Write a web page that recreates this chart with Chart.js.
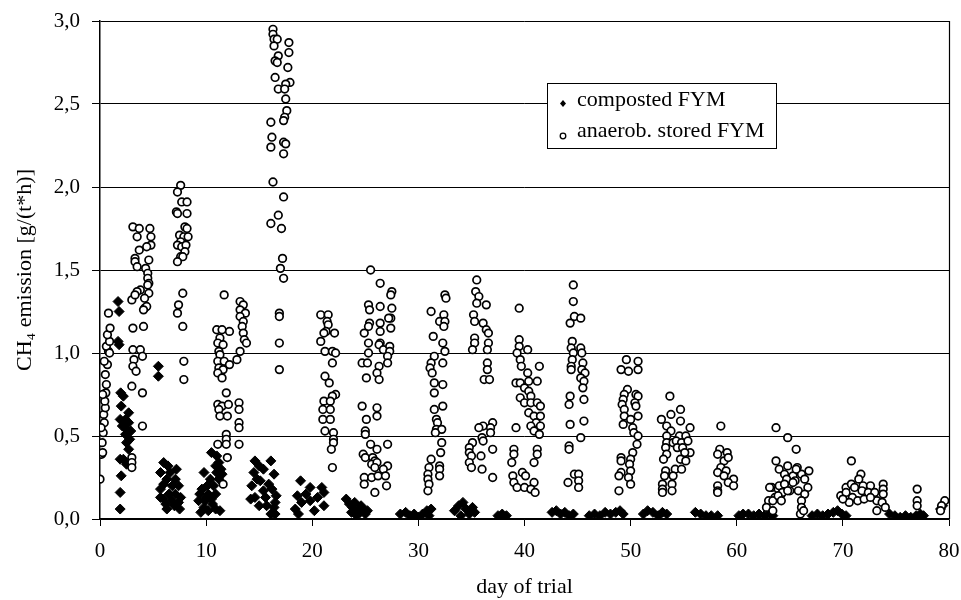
<!DOCTYPE html>
<html>
<head>
<meta charset="utf-8">
<style>
  body { margin: 0; background: #fff; }
</style>
</head>
<body>

<canvas id="ch4Chart" width="961" height="600"></canvas>

<script src="https://cdn.jsdelivr.net/npm/chart.js@4.4.0/dist/chart.umd.min.js"></script>
<script>
// CH4 emission of farmyard manure, values as [day of trial, g/(t*h)]
const seriesLabels = ['composted FYM', 'anaerob. stored FYM'];
const xTitle = 'day of trial';
const yTitle = 'CH\u2084 emission [g/(t*h)]';

const compostedFYM = [
  [1.7,1.31],[1.8,1.25],[1.8,1.05],[1.7,1.07],[5.5,0.92],[5.5,0.86],
  [1.95,0.76],[2.2,0.74],[2.0,0.68],[2.7,0.64],[1.9,0.60],[2.4,0.60],[2.7,0.58],[2.1,0.56],[2.5,0.54],
  [2.9,0.53],[2.4,0.51],[2.8,0.48],[2.5,0.46],[2.7,0.42],[2.2,0.36],[1.9,0.36],[2.5,0.33],[2.0,0.26],
  [1.9,0.16],[1.9,0.06],
  [6.0,0.34],[7.2,0.30],[5.7,0.28],[6.6,0.28],[6.3,0.24],[7.1,0.24],[6.0,0.21],[6.8,0.20],[7.4,0.20],
  [5.7,0.18],[6.5,0.15],[7.1,0.15],[6.0,0.12],[6.8,0.11],[7.4,0.10],[6.3,0.06],[7.5,0.06],[5.7,0.13],
  [6.4,0.32],[7.6,0.13],[6.2,0.09],[7.0,0.08],
  [10.5,0.40],[11.0,0.38],[11.2,0.34],[10.9,0.32],[9.8,0.28],[11.0,0.28],[10.4,0.24],[11.2,0.24],
  [10.1,0.20],[10.7,0.20],[9.4,0.15],[10.2,0.15],[10.9,0.15],[9.3,0.11],[9.9,0.11],[10.5,0.12],
  [9.8,0.07],[10.9,0.06],[10.2,0.05],[11.3,0.05],[9.6,0.18],[10.0,0.13],[10.6,0.09],[11.5,0.27],
  [11.4,0.30],[9.5,0.04],
  [14.6,0.35],[16.1,0.35],[15.4,0.30],[16.4,0.27],[14.5,0.28],[15.1,0.23],[15.9,0.21],[14.3,0.20],
  [15.4,0.17],[16.2,0.18],[14.6,0.13],[15.6,0.13],[16.5,0.10],[15.0,0.08],[16.4,0.07],[16.5,0.03],
  [16.1,0.03],[14.2,0.12],[15.7,0.08],[14.8,0.24],[15.0,0.32],[16.6,0.14],
  [18.9,0.23],[19.8,0.19],[19.4,0.15],[18.6,0.14],[21.1,0.16],[19.0,0.10],[19.8,0.11],[18.4,0.06],
  [18.7,0.03],[21.1,0.08],[20.5,0.13],[20.9,0.19],[20.2,0.05],
  [23.2,0.12],[23.5,0.09],[23.8,0.07],[24.0,0.10],[24.3,0.05],[24.5,0.04],[24.8,0.06],[25.0,0.03],
  [24.2,0.02],[23.7,0.04],[25.2,0.05],[24.6,0.08],
  [28.3,0.03],[28.8,0.04],[29.2,0.02],[29.6,0.03],[30.0,0.01],[30.4,0.03],[30.8,0.05],[31.2,0.06],[31.0,0.02],
  [33.4,0.05],[33.8,0.08],[34.2,0.10],[34.5,0.06],[34.8,0.03],[35.1,0.07],[35.3,0.04],[34.0,0.02],
  [37.5,0.02],[37.9,0.03],[38.3,0.02],
  [42.6,0.04],[43.0,0.05],[43.4,0.03],[43.8,0.04],[44.2,0.02],[44.6,0.03],
  [46.1,0.02],[46.6,0.03],[47.1,0.02],[47.6,0.04],[48.1,0.03],[48.6,0.04],[49.0,0.05],[49.3,0.03],
  [51.2,0.03],[51.6,0.05],[52.1,0.04],[52.6,0.02],[53.0,0.04],[53.4,0.03],
  [56.1,0.04],[56.6,0.03],[57.1,0.02],[57.6,0.02],[58.2,0.02],
  [60.2,0.02],[60.6,0.03],[61.1,0.03],[61.6,0.02],[62.1,0.03],[62.6,0.02],[63.1,0.03],[63.4,0.02],
  [67.1,0.02],[67.6,0.03],[68.1,0.02],[68.6,0.03],[69.1,0.04],[69.5,0.05],[69.9,0.03],[70.3,0.02],
  [74.4,0.03],[74.9,0.02],[75.4,0.01],[75.9,0.02],[76.4,0.01],[76.9,0.02],[77.3,0.03],[77.6,0.02],
  [79.2,0.06],[79.4,0.08]
];

const anaerobStoredFYM = [
  [0.0,0.24],[0.15,0.39],[0.25,0.40],[0.2,0.46],[0.3,0.52],[0.4,0.58],[0.35,0.63],[0.5,0.67],[0.45,0.71],
  [0.55,0.76],[0.6,0.81],[0.5,0.87],[0.7,0.93],[0.4,0.95],[0.8,1.01],[0.6,1.04],[0.9,1.07],[0.7,1.11],
  [0.95,1.15],[0.8,1.24],[0.25,0.75],[0.1,0.55],[0.9,1.0],
  [3.1,1.76],[3.7,1.75],[4.7,1.75],[3.5,1.70],[4.8,1.70],[3.7,1.62],[4.8,1.65],[4.4,1.64],[3.3,1.57],
  [3.3,1.55],[3.5,1.52],[4.6,1.56],[4.3,1.51],[4.5,1.48],[4.5,1.45],[4.6,1.42],[3.8,1.38],[3.5,1.37],
  [3.0,1.32],[4.6,1.36],[4.2,1.33],[4.2,1.27],[4.4,1.28],[3.3,1.35],[4.5,1.41],[4.1,1.26],[3.1,1.15],
  [4.1,1.16],[3.1,1.02],[3.8,1.02],[4.0,0.98],[3.2,0.96],[3.1,0.92],[3.4,0.89],[3.0,0.80],[4.0,0.76],
  [4.0,0.56],[3.0,0.37],[3.0,0.34],[3.0,0.31],
  [7.6,2.01],[7.3,1.97],[7.7,1.91],[8.2,1.91],[7.2,1.85],[7.3,1.84],[8.2,1.84],[8.0,1.76],[8.2,1.75],
  [7.5,1.71],[7.9,1.70],[8.3,1.70],[7.6,1.67],[7.3,1.65],[7.7,1.64],[8.1,1.65],[8.0,1.61],[7.6,1.58],
  [7.8,1.58],[7.3,1.55],[7.8,1.36],[7.4,1.29],[7.3,1.24],[7.8,1.16],[7.9,0.95],[7.9,0.84],
  [11.7,1.35],[11.0,1.14],[11.5,1.14],[12.2,1.13],[11.3,1.09],[11.1,1.06],[11.6,1.05],[11.2,1.01],
  [11.3,0.99],[11.1,0.95],[11.7,0.95],[12.2,0.93],[11.2,0.91],[11.6,0.90],[11.1,0.88],[11.5,0.85],
  [11.9,0.76],[11.1,0.69],[11.5,0.68],[12.1,0.69],[11.2,0.66],[11.3,0.62],[12.0,0.62],[11.9,0.51],
  [11.9,0.48],[11.9,0.45],[11.1,0.45],[12.0,0.37],[11.6,0.21],
  [13.2,1.31],[13.5,1.29],[13.2,1.26],[13.7,1.24],[13.2,1.22],[13.5,1.19],[13.4,1.16],[13.5,1.12],
  [13.6,1.08],[13.8,1.06],[13.2,1.01],[12.9,0.96],[13.1,0.70],[13.1,0.66],[13.1,0.58],[13.1,0.55],[13.1,0.45],
  [16.3,2.95],[16.3,2.92],[16.4,2.89],[16.7,2.89],[17.8,2.87],[16.4,2.85],[17.8,2.81],[16.8,2.79],
  [16.5,2.76],[16.7,2.75],[17.7,2.72],[16.5,2.66],[16.8,2.59],[17.9,2.63],[17.5,2.62],[17.4,2.59],
  [17.5,2.53],[17.6,2.46],[17.4,2.42],[17.3,2.40],[16.1,2.39],[16.2,2.30],[16.1,2.24],[17.3,2.27],
  [17.5,2.26],[17.3,2.20],[16.3,2.03],[17.3,1.94],[16.8,1.83],[16.1,1.78],[17.1,1.75],[17.2,1.57],
  [17.0,1.51],[17.3,1.45],[16.9,1.24],[16.9,1.22],[16.9,1.06],[16.9,0.90],
  [20.8,1.23],[21.5,1.23],[21.4,1.19],[21.5,1.17],[21.3,1.13],[21.1,1.12],[22.1,1.12],[20.8,1.07],
  [21.2,1.01],[21.9,1.01],[22.2,1.00],[21.9,0.94],[21.2,0.86],[21.6,0.82],[22.2,0.75],[21.1,0.71],
  [21.9,0.74],[21.7,0.71],[21.0,0.66],[21.7,0.66],[21.0,0.60],[21.7,0.60],[21.2,0.53],[22.0,0.52],
  [22.0,0.48],[22.0,0.46],[21.8,0.42],[21.9,0.31],
  [25.5,1.50],[26.4,1.42],[27.5,1.37],[27.4,1.35],[25.3,1.29],[25.4,1.26],[26.4,1.28],[27.5,1.27],
  [27.4,1.21],[27.2,1.21],[25.4,1.18],[26.4,1.18],[25.3,1.16],[24.9,1.12],[26.4,1.13],[27.4,1.15],
  [25.3,1.06],[26.4,1.06],[26.3,1.05],[26.7,1.02],[27.3,1.04],[27.3,1.01],[25.3,1.00],[27.1,0.98],
  [27.1,0.94],[24.7,0.94],[25.2,0.94],[26.3,0.92],[26.1,0.88],[26.3,0.84],[25.1,0.85],[24.7,0.68],
  [26.1,0.67],[25.1,0.60],[26.1,0.62],[25.0,0.53],[25.0,0.51],[25.5,0.45],[26.1,0.42],[27.1,0.45],
  [24.8,0.39],[25.0,0.37],[25.7,0.37],[25.9,0.35],[25.6,0.33],[26.1,0.34],[27.1,0.32],[25.9,0.31],
  [26.7,0.30],[24.9,0.25],[25.6,0.25],[26.2,0.26],[26.9,0.26],[24.9,0.21],[25.9,0.16],[27.0,0.20],
  [32.5,1.35],[32.6,1.33],[31.2,1.25],[32.4,1.23],[32.0,1.19],[32.5,1.19],[32.4,1.16],[31.4,1.10],
  [32.3,1.06],[32.5,1.01],[31.5,0.98],[32.3,0.94],[31.2,0.94],[31.1,0.91],[31.3,0.88],[31.5,0.82],
  [32.3,0.81],[31.5,0.76],[32.3,0.68],[31.5,0.66],[31.7,0.60],[31.8,0.58],[31.7,0.54],[32.2,0.54],
  [31.6,0.52],[32.2,0.46],[32.1,0.40],[31.2,0.36],[32.0,0.32],[31.0,0.31],[32.0,0.30],[30.9,0.27],
  [32.0,0.26],[30.9,0.24],[31.0,0.21],[30.9,0.17],
  [35.5,1.44],[35.4,1.37],[35.7,1.34],[35.5,1.30],[36.4,1.29],[35.2,1.23],[35.3,1.19],[36.1,1.18],
  [36.4,1.14],[36.6,1.12],[35.3,1.09],[35.3,1.06],[36.6,1.06],[35.1,1.02],[36.5,1.02],[36.5,0.94],
  [36.5,0.90],[36.2,0.84],[36.7,0.84],[36.1,0.56],[35.7,0.55],[37.0,0.58],[36.8,0.55],[36.8,0.52],
  [36.0,0.49],[36.1,0.47],[35.1,0.46],[34.8,0.43],[34.8,0.40],[35.0,0.38],[35.9,0.38],[37.0,0.42],
  [34.8,0.34],[35.0,0.31],[36.0,0.30],[37.0,0.25],
  [39.5,1.27],[39.5,1.08],[39.5,1.04],[40.3,1.02],[39.3,1.00],[39.6,0.96],[39.7,0.92],[41.4,0.92],
  [40.3,0.88],[41.2,0.83],[39.2,0.82],[39.6,0.82],[40.0,0.79],[40.4,0.83],[40.4,0.77],[40.6,0.74],
  [39.6,0.73],[40.0,0.70],[40.6,0.70],[41.2,0.70],[41.5,0.68],[40.4,0.64],[40.9,0.62],[41.5,0.62],
  [41.1,0.58],[41.5,0.56],[40.6,0.56],[40.9,0.53],[41.4,0.51],[39.2,0.55],[39.0,0.42],[39.0,0.39],
  [41.2,0.42],[41.2,0.39],[40.9,0.34],[38.8,0.34],[39.8,0.28],[40.1,0.26],[38.9,0.26],[39.0,0.22],
  [40.9,0.22],[39.3,0.19],[40.0,0.19],[40.6,0.18],[41.0,0.16],
  [44.6,1.41],[44.6,1.31],[44.7,1.22],[45.3,1.21],[44.3,1.18],[44.5,1.07],[44.4,1.03],[45.3,1.03],
  [44.6,1.00],[45.4,1.00],[44.5,0.96],[45.5,0.94],[44.4,0.92],[44.4,0.90],[45.4,0.90],[45.7,0.88],
  [45.3,0.85],[45.6,0.83],[45.5,0.79],[44.3,0.74],[44.2,0.69],[45.6,0.72],[45.6,0.59],[44.3,0.57],
  [45.3,0.49],[44.2,0.44],[44.2,0.42],[44.7,0.27],[45.1,0.27],[44.1,0.22],[45.1,0.23],[45.1,0.19],
  [49.6,0.96],[50.7,0.95],[49.1,0.90],[49.8,0.89],[50.7,0.90],[49.7,0.78],[49.4,0.75],[50.5,0.75],
  [49.3,0.72],[50.7,0.74],[49.2,0.69],[50.4,0.70],[49.4,0.66],[50.5,0.68],[49.4,0.62],[50.7,0.62],
  [49.3,0.57],[50.0,0.60],[50.2,0.55],[50.3,0.52],[50.7,0.50],[50.6,0.45],[50.2,0.40],[49.1,0.37],
  [50.0,0.36],[49.1,0.35],[49.9,0.33],[49.1,0.28],[50.0,0.29],[48.9,0.26],[49.8,0.25],[50.0,0.21],[48.9,0.17],
  [53.7,0.74],[52.9,0.60],[53.8,0.63],[54.7,0.66],[53.4,0.56],[54.7,0.59],[55.6,0.55],[53.8,0.53],
  [53.4,0.50],[54.6,0.50],[55.2,0.50],[53.4,0.46],[54.0,0.46],[54.3,0.47],[54.8,0.46],[55.4,0.47],
  [53.3,0.43],[54.4,0.43],[54.9,0.43],[55.6,0.40],[53.4,0.39],[55.1,0.40],[53.1,0.36],[54.7,0.36],
  [55.2,0.35],[54.2,0.30],[53.3,0.29],[54.8,0.30],[53.2,0.26],[54.0,0.26],[53.0,0.21],[53.9,0.21],
  [53.0,0.18],[53.9,0.17],[53.0,0.16],
  [58.5,0.56],[58.4,0.42],[59.1,0.40],[58.2,0.39],[58.8,0.35],[59.2,0.37],[58.5,0.31],[58.2,0.28],
  [59.0,0.29],[58.8,0.26],[59.7,0.24],[59.2,0.22],[58.2,0.20],[59.7,0.20],[58.2,0.17],[58.2,0.16],
  [63.7,0.55],[64.8,0.49],[65.6,0.42],[63.7,0.35],[64.0,0.30],[64.8,0.32],[65.7,0.31],[66.8,0.29],
  [64.5,0.27],[65.3,0.26],[66.1,0.27],[63.3,0.19],[63.9,0.18],[64.7,0.24],[65.5,0.23],[66.4,0.24],
  [66.7,0.19],[64.2,0.15],[65.0,0.17],[65.8,0.17],[66.4,0.15],[63.0,0.11],[63.6,0.13],[66.1,0.11],
  [62.8,0.07],[63.4,0.05],[66.1,0.07],[66.0,0.03],[66.3,0.05],[63.1,0.19],[64.0,0.20],[64.5,0.21],
  [65.3,0.22],[63.4,0.11],[64.3,0.16],[63.9,0.14],[64.8,0.17],[65.6,0.30],[64.2,0.11],
  [70.8,0.35],[71.7,0.27],[71.5,0.24],[70.3,0.19],[70.8,0.21],[71.1,0.19],[71.9,0.20],[72.6,0.20],
  [69.8,0.14],[70.3,0.16],[70.9,0.13],[71.8,0.17],[72.4,0.16],[73.0,0.16],[73.8,0.21],[73.8,0.18],
  [73.8,0.15],[73.2,0.11],[73.7,0.10],[74.0,0.07],[73.2,0.05],[70.6,0.10],[70.0,0.12],[71.4,0.11],
  [72.0,0.12],[72.6,0.13],
  [77.0,0.18],[77.0,0.11],[77.0,0.08],
  [79.6,0.11],[79.3,0.08],[79.2,0.05]
];

const FONT = 'Liberation Serif, "Times New Roman", serif';
const toPoints = arr => arr.map(p => ({ x: p[0], y: p[1] }));

// white page, right frame line and the boxed legend inside the plot
const frameAndLegend = {
  id: 'frameAndLegend',
  beforeDraw(chart) {
    const ctx = chart.ctx;
    ctx.save();
    ctx.fillStyle = '#fff';
    ctx.fillRect(0, 0, chart.width, chart.height);
    ctx.restore();
  },
  afterDraw(chart) {
    const { ctx, chartArea: a } = chart;
    ctx.save();
    ctx.strokeStyle = '#000';
    ctx.lineWidth = 1.2;
    ctx.beginPath();
    ctx.moveTo(a.right + 0.5, a.top);
    ctx.lineTo(a.right + 0.5, a.bottom);
    ctx.stroke();

    // legend box
    const bx = 547, by = 83, bw = 229, bh = 65;
    ctx.fillStyle = '#fff';
    ctx.fillRect(bx, by, bw, bh);
    ctx.lineWidth = 1;
    ctx.strokeRect(bx + 0.5, by + 0.5, bw, bh);

    ctx.fillStyle = '#000';
    ctx.font = '22px ' + FONT;
    ctx.textBaseline = 'middle';
    ctx.textAlign = 'left';
    ctx.fillText(seriesLabels[0], 577, 100);
    ctx.fillText(seriesLabels[1], 577, 131);

    // markers
    ctx.beginPath();
    ctx.moveTo(563, 100);
    ctx.lineTo(566, 103.5);
    ctx.lineTo(563, 107);
    ctx.lineTo(560, 103.5);
    ctx.closePath();
    ctx.fill();
    ctx.beginPath();
    ctx.lineWidth = 1.3;
    ctx.arc(563, 136, 2.8, 0, Math.PI * 2);
    ctx.stroke();
    ctx.restore();
  }
};

new Chart(document.getElementById('ch4Chart'), {
  type: 'scatter',
  data: {
    datasets: [
      {
        label: seriesLabels[1],
        data: toPoints(anaerobStoredFYM),
        pointStyle: 'circle',
        pointRadius: 3.8,
        borderWidth: 1.7,
        borderColor: '#000',
        backgroundColor: '#fff',
        order: 1
      },
      {
        label: seriesLabels[0],
        data: toPoints(compostedFYM),
        pointStyle: 'rectRot',
        pointRadius: 5,
        borderWidth: 1,
        borderColor: '#000',
        backgroundColor: '#000',
        order: 2
      }
    ]
  },
  options: {
    responsive: false,
    animation: false,
    devicePixelRatio: 1,
    layout: { padding: { top: 21, right: 12, left: 0, bottom: 0 } },
    plugins: {
      legend: { display: false },
      tooltip: { enabled: false }
    },
    scales: {
      x: {
        type: 'linear',
        min: 0,
        max: 80,
        afterFit: s => { s.height = 81; s.paddingRight = 0; s.paddingLeft = 0; },
        ticks: {
          stepSize: 10,
          color: '#000',
          padding: 13,
          font: { family: FONT, size: 21 }
        },
        grid: {
          drawOnChartArea: false,
          drawTicks: true,
          tickLength: 7,
          color: '#000'
        },
        border: { display: true, color: '#000', width: 1.5 },
        title: {
          display: true,
          text: xTitle,
          color: '#000',
          font: { family: FONT, size: 22 },
          padding: { top: 0, bottom: 0 }
        }
      },
      y: {
        min: 0,
        max: 3,
        afterFit: s => { s.width = 100; s.paddingTop = 0; s.paddingBottom = 0; },
        ticks: {
          stepSize: 0.5,
          color: '#000',
          padding: 12,
          font: { family: FONT, size: 21 },
          callback: v => v.toFixed(1).replace('.', ',')
        },
        grid: {
          color: '#000',
          lineWidth: 1,
          drawTicks: true,
          tickLength: 8
        },
        border: { display: true, color: '#000', width: 1.5 },
        title: {
          display: true,
          text: yTitle,
          color: '#000',
          font: { family: FONT, size: 22 },
          padding: { top: 12, bottom: 0 }
        }
      }
    }
  },
  plugins: [frameAndLegend]
});
</script>

</body>
</html>
